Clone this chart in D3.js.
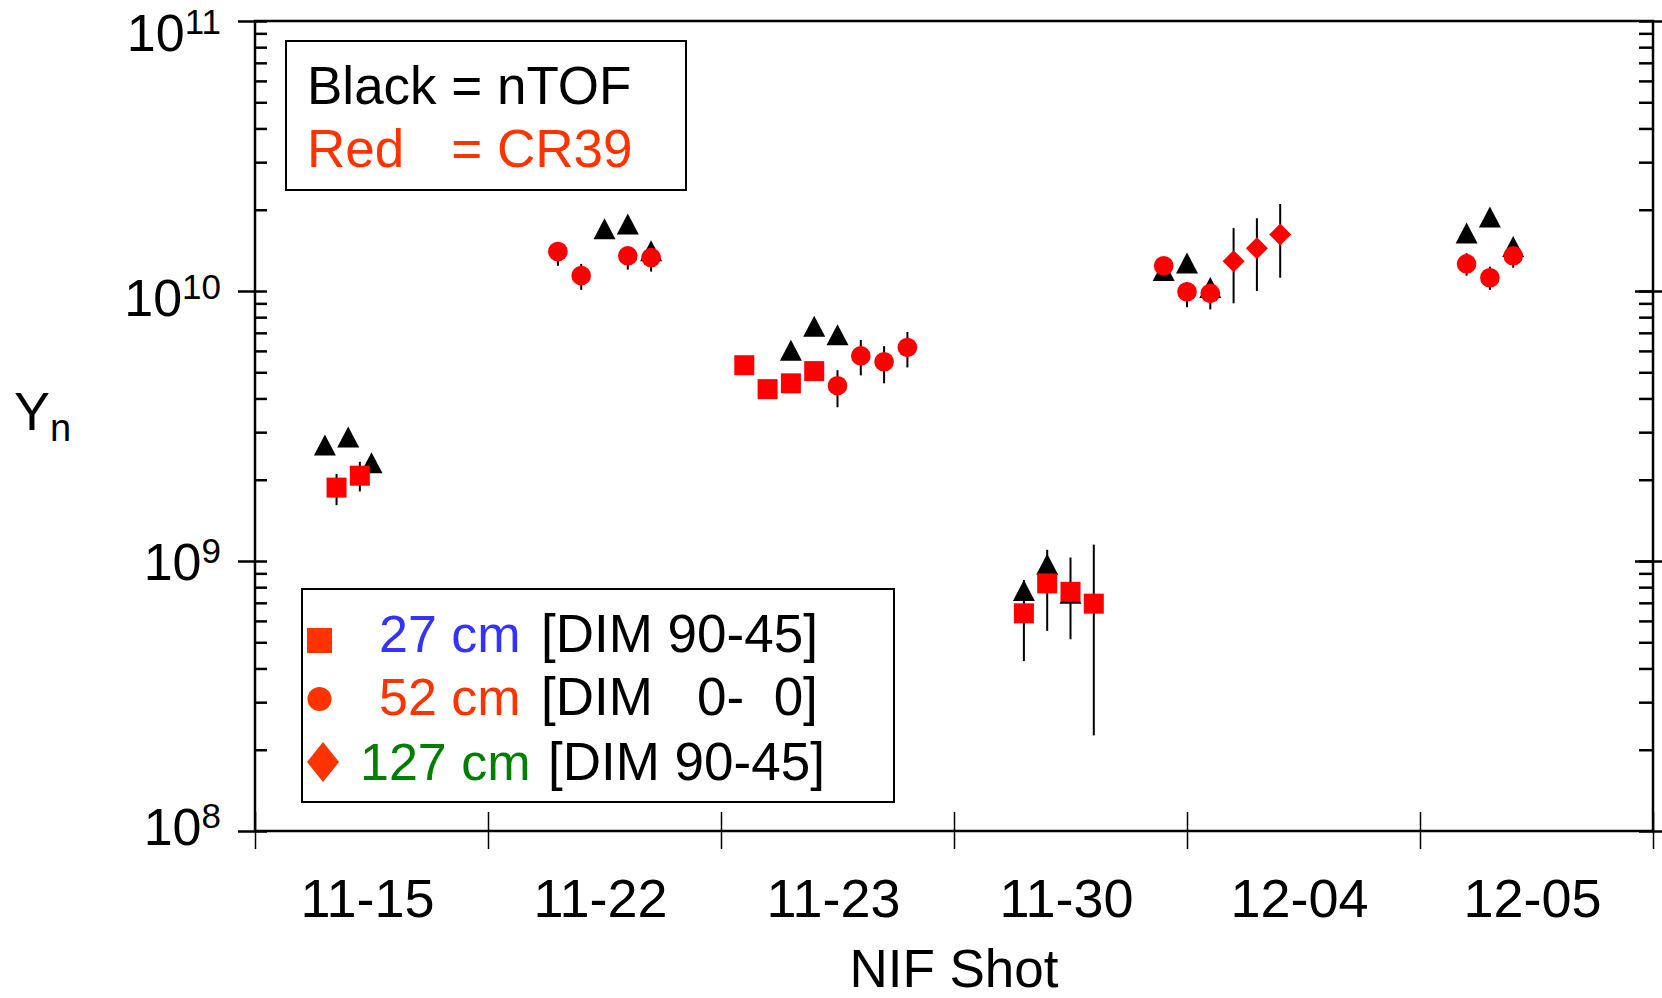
<!DOCTYPE html>
<html>
<head>
<meta charset="utf-8">
<script src="https://cdn.jsdelivr.net/npm/d3@7"></script>
<style>
    body { margin: 0; background: #fff; }
    text { font-family: "Liberation Sans", Arial, sans-serif; }
</style>
</head>
<body>
<div id="chart"></div>
<script>
'use strict';

// categories on the x axis (NIF shot dates)
var shots = ["11-15", "11-22", "11-23", "11-30", "12-04", "12-05"];

// nTOF yields (black triangles), x is position in shot units
var ntofX = [0.3, 0.4, 0.5, 1.5, 1.6, 1.7, 2.3, 2.4, 2.5, 3.3, 3.4, 3.5, 3.9, 4.0, 4.1, 5.2, 5.3, 5.4];
var ntofY = [2.69e9, 2.88e9, 2.31e9, 1.70e10, 1.77e10, 1.41e10, 6.03e9, 7.40e9, 6.89e9,
             7.78e8, 9.73e8, 7.59e8, 1.19e10, 1.27e10, 1.03e10, 1.64e10, 1.88e10, 1.46e10];

// CR39 27 cm (red squares)
var sqX  = [0.35, 0.45, 2.1, 2.2, 2.3, 2.4, 3.3, 3.4, 3.5, 3.6];
var sqY  = [1.87e9, 2.07e9, 5.31e9, 4.33e9, 4.55e9, 5.05e9, 6.40e8, 8.26e8, 7.69e8, 6.95e8];
var sqLo = [1.61e9, 1.81e9, null, null, null, null, 4.26e8, 5.51e8, 5.13e8, 2.26e8];
var sqHi = [2.10e9, 2.33e9, null, null, null, null, 8.50e8, 1.10e9, 1.03e9, 1.15e9];

// CR39 52 cm (red circles)
var ciX  = [1.3, 1.4, 1.6, 1.7, 2.5, 2.6, 2.7, 2.8, 3.9, 4.0, 4.1, 5.2, 5.3, 5.4];
var ciY  = [1.40e10, 1.14e10, 1.35e10, 1.33e10, 4.46e9, 5.75e9, 5.47e9, 6.18e9,
            1.24e10, 9.94e9, 9.80e9, 1.26e10, 1.12e10, 1.35e10];
var ciLo = [1.24e10, 1.01e10, 1.20e10, 1.18e10, 3.71e9, 4.87e9, 4.55e9, 5.21e9,
            null, 8.71e9, 8.55e9, 1.14e10, 1.01e10, 1.22e10];
var ciHi = [1.50e10, 1.26e10, 1.45e10, 1.42e10, 5.09e9, 6.59e9, 6.25e9, 7.05e9,
            null, 1.08e10, 1.08e10, 1.38e10, 1.23e10, 1.45e10];

// CR39 127 cm (red diamonds)
var diX  = [4.2, 4.3, 4.4];
var diY  = [1.29e10, 1.44e10, 1.62e10];
var diLo = [9.00e9, 1.00e10, 1.12e10];
var diHi = [1.71e10, 1.86e10, 2.10e10];

// y axis decades and exponent labels
var yMajor = [1e8, 1e9, 1e10, 1e11];
var yExp = ["8", "9", "10", "11"];

var W = 1662, H = 998;
var pL = 255, pR = 1653, pT = 21, pB = 831;
var red = "#ff0000", legRed = "#ff3300";

var svg = d3.select("#chart").append("svg")
    .attr("width", W).attr("height", H);

svg.append("rect").attr("x", 0).attr("y", 0).attr("width", W).attr("height", H).attr("fill", "white");

var x = d3.scaleLinear().domain([0, shots.length]).range([pL, pR]);
var y = d3.scaleLog().domain([1e8, 1e11]).range([pB, pT]);

var yMinor = [];
yMajor.slice(0, 3).forEach(function(d) {
    for (var k = 2; k <= 9; k++) yMinor.push(d * k);
});
var yAll = yMajor.concat(yMinor);

function styleAxis(g, w) {
    g.select(".domain").remove();
    g.selectAll("text").remove();
    g.selectAll("line").attr("stroke", "black").attr("stroke-width", w);
}

// left axis: majors cross, minors inside
svg.append("g").attr("transform", "translate(" + pL + ",0)")
    .call(d3.axisLeft(y).tickValues(yMajor).tickSize(17)).call(styleAxis, 2.5);
svg.append("g").attr("transform", "translate(" + pL + ",0)")
    .call(d3.axisRight(y).tickValues(yAll).tickSize(12)).call(styleAxis, 2.5);
// right axis
svg.append("g").attr("transform", "translate(" + pR + ",0)")
    .call(d3.axisLeft(y).tickValues(yAll).tickSize(14)).call(styleAxis, 2.5);
svg.append("g").attr("transform", "translate(" + pR + ",0)")
    .call(d3.axisRight(y).tickValues(yMajor).tickSize(10)).call(styleAxis, 2.5);
svg.append("g").attr("transform", "translate(" + pR + ",0)")
    .call(d3.axisLeft(y).tickValues(yMajor.slice(1, 3)).tickSize(18)).call(styleAxis, 2.5);
// bottom ticks at band edges
var xEdges = d3.range(0, shots.length + 1);
svg.append("g").attr("transform", "translate(0," + pB + ")")
    .call(d3.axisBottom(x).tickValues(xEdges).tickSize(18)).call(styleAxis, 1.5);
svg.append("g").attr("transform", "translate(0," + pB + ")")
    .call(d3.axisTop(x).tickValues(xEdges).tickSize(19)).call(styleAxis, 1.5);

// frame
svg.append("rect")
    .attr("x", pL).attr("y", pT).attr("width", pR - pL).attr("height", pB - pT)
    .attr("fill", "none").attr("stroke", "black").attr("stroke-width", 2.5);

// y tick labels 10^n (labels drift a little lower toward the top in the original)
yMajor.forEach(function(d, i) {
    var off = 14 + 16 * (Math.log10(d) - 8) / 3;
    var t = svg.append("text")
        .attr("x", 221).attr("y", y(d) + off)
        .attr("text-anchor", "end").attr("font-size", 52).attr("fill", "black");
    t.append("tspan").text("10");
    t.append("tspan").attr("dy", -17).attr("font-size", 35).text(yExp[i]);
});

// x tick labels, centered in each band
svg.selectAll("text.xlab").data(shots).enter().append("text")
    .attr("class", "xlab")
    .attr("x", function(d, i) { return x(i + 0.5) - 4; })
    .attr("y", 917)
    .attr("text-anchor", "middle").attr("font-size", 54).attr("fill", "black")
    .text(function(d) { return d; });

// axis titles
svg.append("text").attr("x", (pL + pR) / 2).attr("y", 987)
    .attr("text-anchor", "middle").attr("font-size", 53).text("NIF Shot");
var yt = svg.append("text").attr("x", 14).attr("y", 430).attr("font-size", 54);
yt.append("tspan").text("Y");
yt.append("tspan").attr("dy", 11).attr("font-size", 38).text("n");

// marker shapes
function triPath(cx, cy, w, h) {
    return "M" + cx + "," + (cy - h / 2) + "L" + (cx + w / 2) + "," + (cy + h / 2) +
        "L" + (cx - w / 2) + "," + (cy + h / 2) + "Z";
}
function diaPath(cx, cy, w, h) {
    return "M" + cx + "," + (cy - h / 2) + "L" + (cx + w / 2) + "," + cy +
        "L" + cx + "," + (cy + h / 2) + "L" + (cx - w / 2) + "," + cy + "Z";
}

// error bars first
function errBars(xs, lo, hi) {
    xs.forEach(function(d, i) {
        if (lo[i] == null) return;
        svg.append("line")
            .attr("x1", x(d)).attr("x2", x(d))
            .attr("y1", y(lo[i])).attr("y2", y(hi[i]))
            .attr("stroke", "black").attr("stroke-width", 2);
    });
}
errBars(sqX, sqLo, sqHi);
errBars(ciX, ciLo, ciHi);
errBars(diX, diLo, diHi);

// nTOF triangles
ntofX.forEach(function(d, i) {
    svg.append("path").attr("d", triPath(x(d), y(ntofY[i]), 22, 21)).attr("fill", "black");
});

// CR39 markers
sqX.forEach(function(d, i) {
    svg.append("rect")
        .attr("x", x(d) - 10).attr("y", y(sqY[i]) - 10)
        .attr("width", 20).attr("height", 20).attr("fill", red);
});
ciX.forEach(function(d, i) {
    svg.append("circle").attr("cx", x(d)).attr("cy", y(ciY[i])).attr("r", 9.8).attr("fill", red);
});
diX.forEach(function(d, i) {
    svg.append("path").attr("d", diaPath(x(d), y(diY[i]), 22, 22)).attr("fill", red);
});

// legend: instruments
svg.append("rect").attr("x", 286).attr("y", 41).attr("width", 400).attr("height", 149)
    .attr("fill", "white").attr("stroke", "black").attr("stroke-width", 2);
var l1 = svg.append("text").attr("x", 307).attr("y", 104).attr("font-size", 53).text("Black");
var eqX = 307 + l1.node().getComputedTextLength() + 14.7;
svg.append("text").attr("x", eqX).attr("y", 104).attr("font-size", 53).text("= nTOF");
svg.append("text").attr("x", 307).attr("y", 167).attr("font-size", 53).attr("fill", legRed).text("Red");
svg.append("text").attr("x", eqX).attr("y", 167).attr("font-size", 53).attr("fill", legRed).text("= CR39");

// legend: detector distances
var legRows = ["27 cm", "52 cm", "127 cm"];
var legCols = ["#3333ff", legRed, "#008000"];
var legDim = ["[DIM 90-45]", "[DIM   0-  0]", "[DIM 90-45]"];
var legTx = [379, 379, 360];
var legDx = [541, 541, 548];
var legBase = [652, 715, 780];

svg.append("rect").attr("x", 302).attr("y", 589).attr("width", 592).attr("height", 213)
    .attr("fill", "white").attr("stroke", "black").attr("stroke-width", 2);
legRows.forEach(function(d, i) {
    svg.append("text").attr("x", legTx[i]).attr("y", legBase[i]).attr("font-size", 52)
        .attr("fill", legCols[i]).text(d);
    svg.append("text").attr("x", legDx[i]).attr("y", legBase[i]).attr("font-size", 53)
        .attr("fill", "black").style("white-space", "pre").text(legDim[i]);
});
svg.append("rect").attr("x", 307).attr("y", 628).attr("width", 25).attr("height", 25).attr("fill", legRed);
svg.append("circle").attr("cx", 319.5).attr("cy", 699).attr("r", 12).attr("fill", legRed);
svg.append("path").attr("d", diaPath(323, 762, 32, 40)).attr("fill", legRed);
</script>
</body>
</html>
